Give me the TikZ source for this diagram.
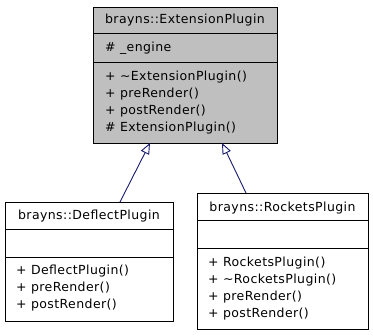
\documentclass[tikz,border=0pt]{standalone}
\usepackage{fontspec}
\setmainfont{DejaVu Sans}[LetterSpace=3.3]
\usetikzlibrary{arrows.meta}
\definecolor{edgeblue}{HTML}{191970}
\definecolor{basegrey}{HTML}{BFBFBF}
\tikzset{
  classbox/.style={draw=black, line width=0.9pt, anchor=north west, inner sep=0pt},
  txt/.style={anchor=base west, inner sep=0pt, font=\fontsize{12.5}{15}\selectfont},
  ttl/.style={anchor=base, inner sep=0pt, font=\fontsize{12.5}{15}\selectfont},
  sep/.style={draw=black, line width=0.9pt},
  inherit/.style={draw=edgeblue, line width=0.9pt, -{Triangle[fill=white, length=11pt, width=9pt]}}
}
\begin{document}
\begin{tikzpicture}[x=1pt, y=-1pt]
  \useasboundingbox (0,0) rectangle (373,336);

  % base class
  \node (base) [classbox, fill=basegrey, minimum width=184pt, minimum height=136pt] at (93,7) {};
  \draw[sep] (93,33) -- (277,33);
  \draw[sep] (93,62) -- (277,62);
  \node (baset) [ttl] at (185,24) {brayns::ExtensionPlugin};
  \node (basea) [txt] at (105,52) {\# \_engine};
  \node (basem1) [txt] at (105,81) {+ \textasciitilde ExtensionPlugin()};
  \node (basem2) [txt] at (105,98) {+ preRender()};
  \node (basem3) [txt] at (105,115) {+ postRender()};
  \node (basem4) [txt] at (105,132) {\# ExtensionPlugin()};

  % DeflectPlugin
  \node (defl) [classbox, fill=white, minimum width=168pt, minimum height=119pt] at (5,202) {};
  \draw[sep] (5,229) -- (173,229);
  \draw[sep] (5,257) -- (173,257);
  \node (deflt) [ttl] at (89,220) {brayns::DeflectPlugin};
  \node (deflm1) [txt] at (16,275) {+ DeflectPlugin()};
  \node (deflm2) [txt] at (16,292) {+ preRender()};
  \node (deflm3) [txt] at (16,309) {+ postRender()};

  % RocketsPlugin
  \node (rock) [classbox, fill=white, minimum width=171pt, minimum height=136pt] at (197,193) {};
  \draw[sep] (197,220) -- (368,220);
  \draw[sep] (197,248) -- (368,248);
  \node (rockt) [ttl] at (282.5,212) {brayns::RocketsPlugin};
  \node (rockm1) [txt] at (208,267) {+ RocketsPlugin()};
  \node (rockm2) [txt] at (208,284) {+ \textasciitilde RocketsPlugin()};
  \node (rockm3) [txt] at (208,301) {+ preRender()};
  \node (rockm4) [txt] at (208,318) {+ postRender()};

  % inheritance edges
  \coordinate (dstart) at (120,202);
  \coordinate (dtip) at (150,143);
  \coordinate (rstart) at (246,193);
  \coordinate (rtip) at (222,143);
  \draw[inherit] (dstart) -- (dtip);
  \draw[inherit] (rstart) -- (rtip);
\end{tikzpicture}
\end{document}
